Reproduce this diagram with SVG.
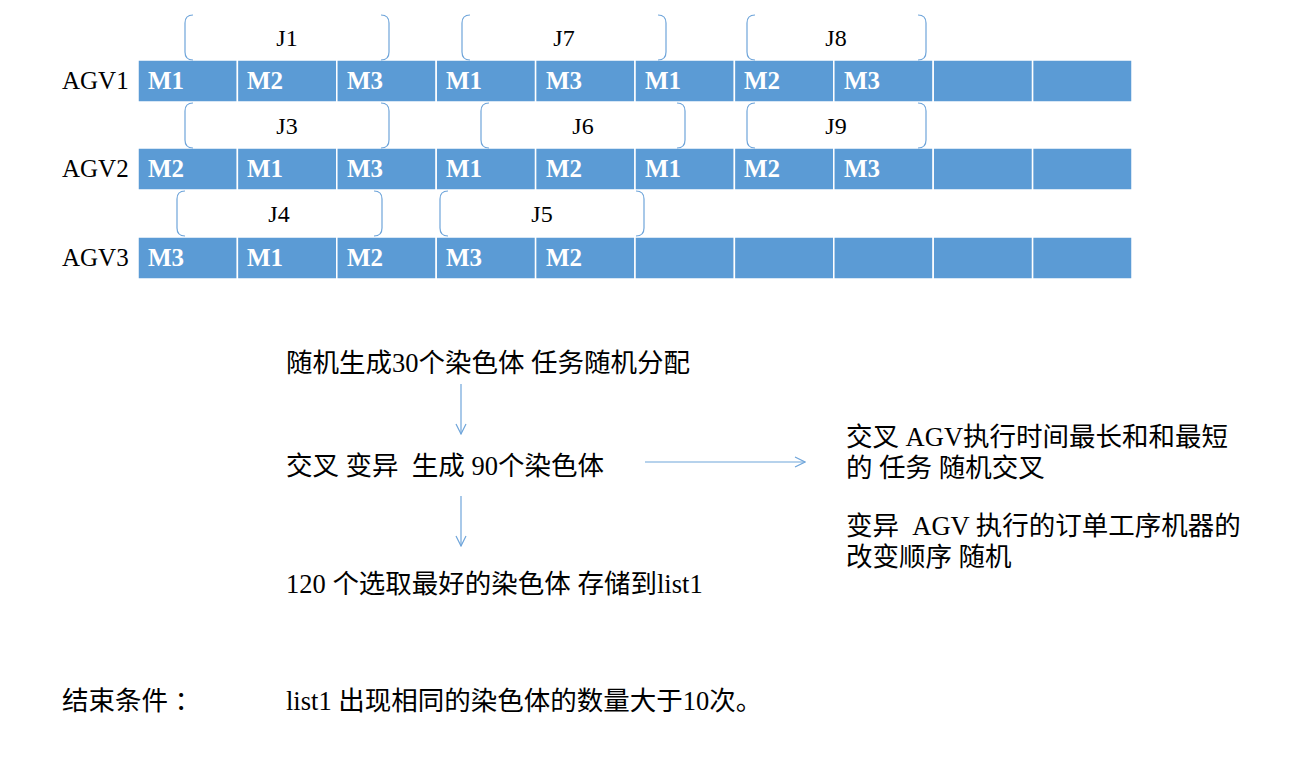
<svg xmlns="http://www.w3.org/2000/svg" width="1291" height="768" viewBox="0 0 1291 768">
<defs>
<style>
.cell{fill:#5B9BD5;stroke:#ffffff;stroke-width:1.5}
.m{font-family:"Liberation Serif",serif;font-weight:bold;font-size:25px;fill:#ffffff}
.agv{font-family:"Liberation Serif",serif;font-size:25px;fill:#000}
.j{font-family:"Liberation Serif",serif;font-size:24px;fill:#000;text-anchor:middle}
.br{fill:none;stroke:#6FA5DA;stroke-width:1.2}
.t{font-family:"Liberation Serif","Noto Sans CJK SC",sans-serif;font-size:26.5px;fill:#000}
.ar{fill:none;stroke:#6FA5DA;stroke-width:1.2}
</style>
<marker id="ah" viewBox="0 0 12 12" refX="11" refY="6" markerWidth="12" markerHeight="12" markerUnits="userSpaceOnUse" orient="auto">
<polyline points="1,1 11,6 1,11" fill="none" stroke="#6FA5DA" stroke-width="1.2"/>
</marker>
</defs>
<rect width="1291" height="768" fill="#ffffff"/>

<g id="row1">
<text class="agv" x="62" y="89">AGV1</text>
<rect class="cell" x="138" y="60" width="99.4" height="42"/>
<rect class="cell" x="237.4" y="60" width="99.4" height="42"/>
<rect class="cell" x="336.8" y="60" width="99.4" height="42"/>
<rect class="cell" x="436.2" y="60" width="99.4" height="42"/>
<rect class="cell" x="535.6" y="60" width="99.4" height="42"/>
<rect class="cell" x="635" y="60" width="99.4" height="42"/>
<rect class="cell" x="734.4" y="60" width="99.4" height="42"/>
<rect class="cell" x="833.8" y="60" width="99.4" height="42"/>
<rect class="cell" x="933.2" y="60" width="99.4" height="42"/>
<rect class="cell" x="1032.6" y="60" width="99.4" height="42"/>
<text class="m" x="148" y="89">M1</text>
<text class="m" x="247" y="89">M2</text>
<text class="m" x="347" y="89">M3</text>
<text class="m" x="446" y="89">M1</text>
<text class="m" x="546" y="89">M3</text>
<text class="m" x="645" y="89">M1</text>
<text class="m" x="744" y="89">M2</text>
<text class="m" x="844" y="89">M3</text>
</g>

<g id="row2">
<text class="agv" x="62" y="177">AGV2</text>
<rect class="cell" x="138" y="148" width="99.4" height="42"/>
<rect class="cell" x="237.4" y="148" width="99.4" height="42"/>
<rect class="cell" x="336.8" y="148" width="99.4" height="42"/>
<rect class="cell" x="436.2" y="148" width="99.4" height="42"/>
<rect class="cell" x="535.6" y="148" width="99.4" height="42"/>
<rect class="cell" x="635" y="148" width="99.4" height="42"/>
<rect class="cell" x="734.4" y="148" width="99.4" height="42"/>
<rect class="cell" x="833.8" y="148" width="99.4" height="42"/>
<rect class="cell" x="933.2" y="148" width="99.4" height="42"/>
<rect class="cell" x="1032.6" y="148" width="99.4" height="42"/>
<text class="m" x="148" y="177">M2</text>
<text class="m" x="247" y="177">M1</text>
<text class="m" x="347" y="177">M3</text>
<text class="m" x="446" y="177">M1</text>
<text class="m" x="546" y="177">M2</text>
<text class="m" x="645" y="177">M1</text>
<text class="m" x="744" y="177">M2</text>
<text class="m" x="844" y="177">M3</text>
</g>

<g id="row3">
<text class="agv" x="62" y="266">AGV3</text>
<rect class="cell" x="138" y="237" width="99.4" height="42"/>
<rect class="cell" x="237.4" y="237" width="99.4" height="42"/>
<rect class="cell" x="336.8" y="237" width="99.4" height="42"/>
<rect class="cell" x="436.2" y="237" width="99.4" height="42"/>
<rect class="cell" x="535.6" y="237" width="99.4" height="42"/>
<rect class="cell" x="635" y="237" width="99.4" height="42"/>
<rect class="cell" x="734.4" y="237" width="99.4" height="42"/>
<rect class="cell" x="833.8" y="237" width="99.4" height="42"/>
<rect class="cell" x="933.2" y="237" width="99.4" height="42"/>
<rect class="cell" x="1032.6" y="237" width="99.4" height="42"/>
<text class="m" x="148" y="266">M3</text>
<text class="m" x="247" y="266">M1</text>
<text class="m" x="347" y="266">M2</text>
<text class="m" x="446" y="266">M3</text>
<text class="m" x="546" y="266">M2</text>
</g>

<g id="J1"><path class="br" d="M193,15 Q185,15 185,23 L185,52 Q185,60 193,60 M381,15 Q389,15 389,23 L389,52 Q389,60 381,60"/><text class="j" x="287" y="46">J1</text></g>
<g id="J7"><path class="br" d="M470,15 Q462,15 462,23 L462,52 Q462,60 470,60 M658,15 Q666,15 666,23 L666,52 Q666,60 658,60"/><text class="j" x="564" y="46">J7</text></g>
<g id="J8"><path class="br" d="M755,15 Q747,15 747,23 L747,52 Q747,60 755,60 M918,15 Q926,15 926,23 L926,52 Q926,60 918,60"/><text class="j" x="836" y="46">J8</text></g>
<g id="J3"><path class="br" d="M193,103 Q185,103 185,111 L185,140 Q185,148 193,148 M381,103 Q389,103 389,111 L389,140 Q389,148 381,148"/><text class="j" x="287" y="134">J3</text></g>
<g id="J6"><path class="br" d="M489,103 Q481,103 481,111 L481,140 Q481,148 489,148 M677,103 Q685,103 685,111 L685,140 Q685,148 677,148"/><text class="j" x="583" y="134">J6</text></g>
<g id="J9"><path class="br" d="M755,103 Q747,103 747,111 L747,140 Q747,148 755,148 M918,103 Q926,103 926,111 L926,140 Q926,148 918,148"/><text class="j" x="836" y="134">J9</text></g>
<g id="J4"><path class="br" d="M185,191 Q177,191 177,199 L177,228 Q177,236 185,236 M374,191 Q382,191 382,199 L382,228 Q382,236 374,236"/><text class="j" x="279" y="222">J4</text></g>
<g id="J5"><path class="br" d="M448,191 Q440,191 440,199 L440,228 Q440,236 448,236 M636,191 Q644,191 644,199 L644,228 Q644,236 636,236"/><text class="j" x="542" y="222">J5</text></g>

<g id="step1"><text class="t" x="286" y="372">随机生成30个染色体 任务随机分配</text></g>
<g id="step2"><text class="t" x="286" y="475" xml:space="preserve">交叉 变异  生成 90个染色体</text></g>
<g id="step3"><text class="t" x="286" y="593">120 个选取最好的染色体 存储到list1</text></g>
<g id="note"><text class="t" x="846" y="446">交叉 AGV执行时间最长和和最短</text><text class="t" x="846" y="477">的 任务 随机交叉</text><text class="t" x="846" y="535" xml:space="preserve">变异  AGV 执行的订单工序机器的</text><text class="t" x="846" y="566">改变顺序 随机</text></g>
<g id="end"><text class="t" x="62" y="710" xml:space="preserve">结束条件 ：</text><text class="t" x="286" y="710">list1 出现相同的染色体的数量大于10次。</text></g>

<g id="connectors">
<line class="ar" x1="461" y1="384" x2="461" y2="434" marker-end="url(#ah)"/>
<line class="ar" x1="461" y1="496" x2="461" y2="546" marker-end="url(#ah)"/>
<line class="ar" x1="645" y1="462" x2="805" y2="462" marker-end="url(#ah)"/>
</g>
</svg>
